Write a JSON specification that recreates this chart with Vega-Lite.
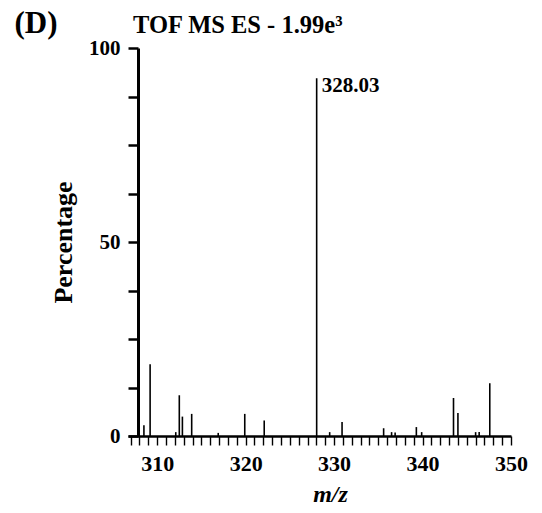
{
  "$schema": "https://vega.github.io/schema/vega-lite/v6.json",
  "width": 383,
  "height": 388,
  "autosize": {"type": "none"},
  "padding": {"left": 128, "top": 48, "right": 31, "bottom": 77},
  "background": "white",
  "title": {
    "text": "TOF MS ES - 1.99e³",
    "anchor": "start",
    "frame": "group",
    "dx": 5,
    "offset": -31,
    "font": "Liberation Serif",
    "fontSize": 24.5,
    "fontWeight": "bold",
    "color": "black"
  },
  "config": {
    "view": {"stroke": null},
    "axis": {
      "labelFont": "Liberation Serif",
      "labelFontWeight": "bold",
      "labelColor": "black",
      "titleFont": "Liberation Serif",
      "titleColor": "black",
      "domainColor": "black",
      "tickColor": "black",
      "grid": false
    }
  },
  "datasets": {
    "peaks": [
      {"mz": 308.5, "pct": 2.8},
      {"mz": 309.2, "pct": 18.5},
      {"mz": 312.1, "pct": 1.0},
      {"mz": 312.5, "pct": 10.5},
      {"mz": 312.85, "pct": 5.0},
      {"mz": 313.9, "pct": 5.7},
      {"mz": 316.9, "pct": 0.8},
      {"mz": 319.9, "pct": 5.7},
      {"mz": 322.1, "pct": 4.0},
      {"mz": 328.03, "pct": 92.2},
      {"mz": 329.5, "pct": 1.0},
      {"mz": 330.9, "pct": 3.6},
      {"mz": 335.6, "pct": 2.0},
      {"mz": 336.5, "pct": 1.0},
      {"mz": 336.9, "pct": 0.9},
      {"mz": 339.3, "pct": 2.3},
      {"mz": 339.9, "pct": 1.0},
      {"mz": 343.5, "pct": 9.8},
      {"mz": 344.0, "pct": 5.9},
      {"mz": 346.0, "pct": 1.0},
      {"mz": 346.4, "pct": 1.0},
      {"mz": 347.6, "pct": 13.6}
    ],
    "labels": [
      {"mz": 328.03, "pct": 92.2, "label": "328.03"}
    ],
    "panel": [
      {"mz": 296.3, "pct": 106.2, "label": "(D)"}
    ]
  },
  "encoding": {
    "x": {
      "field": "mz",
      "type": "quantitative",
      "scale": {"domain": [306.7, 350], "nice": false, "zero": false},
      "axis": {
        "values": [307,308,309,310,311,312,313,314,315,316,317,318,319,320,321,322,323,324,325,326,327,328,329,330,331,332,333,334,335,336,337,338,339,340,341,342,343,344,345,346,347,348,349,350],
        "labelExpr": "datum.value == 310 || datum.value == 320 || datum.value == 330 || datum.value == 340 || datum.value == 350 ? datum.label : ''",
        "labelOverlap": false,
        "labelFlush": false,
        "labelBound": false,
        "labelFontSize": 22,
        "domainWidth": 2.5,
        "tickWidth": 1.4,
        "tickSize": 9,
        "labelPadding": 8,
        "title": "m/z",
        "titleFontSize": 24,
        "titleFontStyle": "italic",
        "titleFontWeight": "bold",
        "titleX": 202,
        "titlePadding": 8
      }
    },
    "y": {
      "field": "pct",
      "type": "quantitative",
      "scale": {"domain": [0, 100], "nice": false},
      "axis": {
        "values": [0, 12.5, 25, 37.5, 50, 62.5, 75, 87.5, 100],
        "labelExpr": "datum.value % 50 === 0 ? datum.label : ''",
        "labelOverlap": false,
        "labelFontSize": 21,
        "offset": -10,
        "domainWidth": 3,
        "tickWidth": 2.5,
        "tickSize": 10,
        "labelPadding": 8,
        "title": "Percentage",
        "titleFontSize": 26,
        "titleFontWeight": "bold",
        "titlePadding": 12
      }
    }
  },
  "layer": [
    {
      "data": {"name": "peaks"},
      "mark": {"type": "rule", "color": "black", "strokeWidth": 1.6},
      "encoding": {
        "y2": {"datum": 0}
      }
    },
    {
      "data": {"name": "labels"},
      "mark": {"type": "text", "align": "left", "baseline": "middle", "dx": 5, "dy": 8, "font": "Liberation Serif", "fontSize": 21, "fontWeight": "bold", "color": "black"},
      "encoding": {
        "text": {"field": "label"}
      }
    },
    {
      "data": {"name": "panel"},
      "mark": {"type": "text", "align": "center", "baseline": "middle", "font": "Liberation Serif", "fontSize": 31, "fontWeight": "bold", "color": "black"},
      "encoding": {
        "text": {"field": "label"}
      }
    }
  ]
}
